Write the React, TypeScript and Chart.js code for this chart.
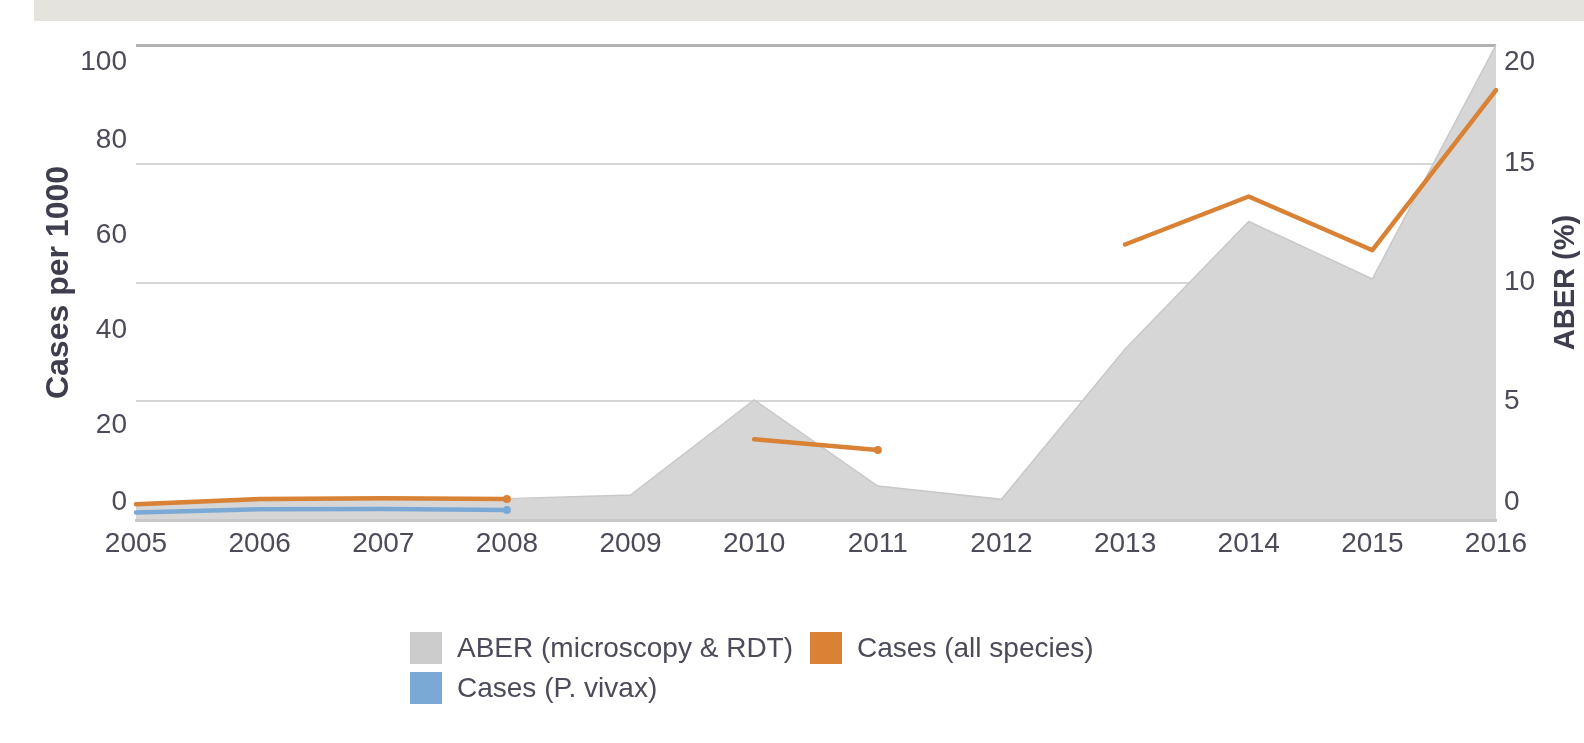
import React, { useEffect, useRef } from 'react';
import { Chart, registerables } from 'chart.js';

Chart.register(...registerables);

// ---- Data ----
const years = ['2005', '2006', '2007', '2008', '2009', '2010', '2011', '2012', '2013', '2014', '2015', '2016'];
const aberValues = [0.6, 0.8, 0.85, 0.9, 1.05, 5.06, 1.43, 0.87, 7.2, 12.57, 10.15, 20];
const casesAllSpecies = [3.3, 4.4, 4.6, 4.4, null, 17.0, 14.75, null, 58.0, 68.1, 56.8, 90.5];
const casesVivax = [1.6, 2.25, 2.3, 2.1, null, null, null, null, null, null, null, null];
const leftAxisRange = [0, 100];
const leftAxisStep = 20;
const rightAxisRange = [0, 20];
const rightAxisStep = 5;
const leftAxisTitle = 'Cases per 1000';
const rightAxisTitle = 'ABER (%)';
const seriesNames = ['ABER (microscopy & RDT)', 'Cases (all species)', 'Cases (P. vivax)'];
const seriesColors = ['#cccccc', '#d98236', '#7ba9d5'];

const FONT = '"Liberation Sans", Arial, Helvetica, sans-serif';
const TEXT = '#4b4b5a';
const TITLE = '#3e3e4e';

function edgeLabel(min: number, max: number) {
  return (value: number) => {
    if (value === max) return ['', String(value)];
    if (value === min) return [String(value), ''];
    return String(value);
  };
}

const rightTitlePlugin = {
  id: 'rightTitle',
  afterDraw(chart: any) {
    const ctx = chart.ctx;
    const s = chart.scales.y1;
    const area = chart.chartArea;
    ctx.save();
    ctx.translate(s.right - 18, (area.top + area.bottom) / 2);
    ctx.rotate(-Math.PI / 2);
    ctx.font = `bold 29px ${FONT}`;
    ctx.fillStyle = TITLE;
    ctx.textAlign = 'center';
    ctx.textBaseline = 'middle';
    ctx.fillText(rightAxisTitle, 0, 0);
    ctx.restore();
  },
};

function segmentEndRadius(ctx: any) {
  const data = ctx.dataset.data;
  const i = ctx.dataIndex;
  if (data[i] == null) return 0;
  if (i < data.length - 1 && data[i + 1] == null) return 4;
  return 0;
}

export default function App() {
  const canvasRef = useRef<HTMLCanvasElement | null>(null);

  useEffect(() => {
    document.body.style.margin = '0';
    const canvas = canvasRef.current!;
    const chart = new Chart(canvas, {
      type: 'line',
      data: {
        labels: years,
        datasets: [
          {
            label: seriesNames[1],
            data: casesAllSpecies,
            yAxisID: 'y',
            borderColor: seriesColors[1],
            backgroundColor: seriesColors[1],
            borderWidth: 4.5,
            borderCapStyle: 'round',
            borderJoinStyle: 'round',
            pointRadius: segmentEndRadius,
            pointBorderWidth: 0,
            pointBackgroundColor: seriesColors[1],
            spanGaps: false,
            fill: false,
            order: 1,
          },
          {
            label: seriesNames[2],
            data: casesVivax,
            yAxisID: 'y',
            borderColor: seriesColors[2],
            backgroundColor: seriesColors[2],
            borderWidth: 4.5,
            borderCapStyle: 'round',
            borderJoinStyle: 'round',
            pointRadius: segmentEndRadius,
            pointBorderWidth: 0,
            pointBackgroundColor: seriesColors[2],
            spanGaps: false,
            fill: false,
            order: 2,
          },
          {
            label: seriesNames[0],
            data: aberValues,
            yAxisID: 'y1',
            borderColor: '#c9c9c9',
            backgroundColor: '#d6d6d6',
            borderWidth: 1.5,
            pointRadius: 0,
            fill: 'origin',
            order: 3,
          },
        ],
      },
      options: {
        responsive: false,
        animation: false,
        devicePixelRatio: 1,
        layout: { padding: { top: 45, bottom: 183, left: 0, right: 0 } },
        plugins: {
          legend: { display: false },
          tooltip: { enabled: false },
          filler: { drawTime: 'beforeDraw' },
        } as any,
        scales: {
          x: {
            type: 'category',
            offset: false,
            grid: { display: false, drawTicks: false },
            border: { display: true, color: '#c8c8c8', width: 3 },
            ticks: {
              autoSkip: false,
              maxRotation: 0,
              padding: 7,
              color: TEXT,
              font: { family: FONT, size: 28 },
            },
            afterFit: (s: any) => { s.height = 40; },
          },
          y: {
            position: 'left',
            min: leftAxisRange[0],
            max: leftAxisRange[1],
            grid: { display: false, drawTicks: false },
            border: { display: false },
            ticks: {
              stepSize: leftAxisStep,
              padding: 9,
              color: TEXT,
              font: { family: FONT, size: 28, lineHeight: 1.25 },
              callback: edgeLabel(leftAxisRange[0], leftAxisRange[1]) as any,
            },
            title: {
              display: true,
              text: leftAxisTitle,
              color: TITLE,
              font: { family: FONT, size: 32, weight: 'bold' },
              padding: { top: 40, bottom: 0 },
            },
            afterFit: (s: any) => { s.width = 136; },
          },
          y1: {
            position: 'right',
            min: rightAxisRange[0],
            max: rightAxisRange[1],
            grid: {
              display: true,
              drawTicks: false,
              color: (c: any) => (c.tick && c.tick.value === rightAxisRange[1] ? '#b2b2b2' : c.tick && c.tick.value === rightAxisRange[0] ? '#c8c8c8' : '#d6d6d6'),
              lineWidth: (c: any) => (c.tick && c.tick.value === rightAxisRange[1] ? 3 : 2),
            },
            border: { display: false },
            ticks: {
              stepSize: rightAxisStep,
              padding: 8,
              color: TEXT,
              font: { family: FONT, size: 28, lineHeight: 1.25 },
              callback: edgeLabel(rightAxisRange[0], rightAxisRange[1]) as any,
            },
            afterFit: (s: any) => { s.width = 88; },
          },
        },
      } as any,
      plugins: [rightTitlePlugin],
    });
    return () => chart.destroy();
  }, []);

  const legendOrder = [0, 1, 2];

  return (
    <div style={{ position: 'relative', width: 1584, height: 743, background: '#ffffff', overflow: 'hidden' }}>
      <div style={{ position: 'absolute', left: 34, top: 0, width: 1550, height: 21, background: '#e4e3de' }} />
      <canvas ref={canvasRef} width={1584} height={743} style={{ position: 'absolute', left: 0, top: 0, width: 1584, height: 743 }} />
      <div
        style={{
          position: 'absolute',
          left: 410,
          top: 628,
          width: 760,
          display: 'flex',
          flexWrap: 'wrap',
          fontFamily: FONT,
          fontSize: 28,
          color: TEXT,
        }}
      >
        {legendOrder.map((i) => (
          <div key={i} style={{ display: 'flex', alignItems: 'center', height: 40, marginRight: 17, whiteSpace: 'nowrap' }}>
            <span style={{ display: 'inline-block', width: 32, height: 32, background: seriesColors[i], marginRight: 15 }} />
            <span style={{ lineHeight: '32px' }}>{seriesNames[i]}</span>
          </div>
        ))}
      </div>
    </div>
  );
}
